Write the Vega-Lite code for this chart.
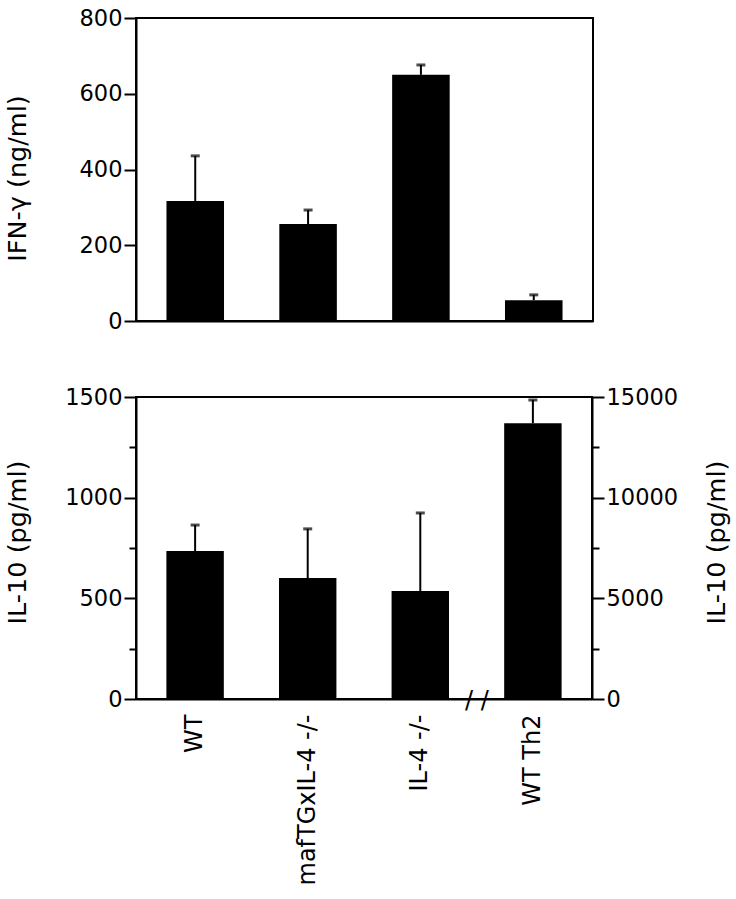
{
  "$schema": "https://vega.github.io/schema/vega-lite/v6.json",
  "padding": {"left": 4, "top": 6, "right": 5, "bottom": 0},
  "background": "white",
  "datasets": {
    "top": [
      {"group": "WT", "value": 317, "upper": 436},
      {"group": "mafTGxIL-4 -/-", "value": 256, "upper": 293},
      {"group": "IL-4 -/-", "value": 650, "upper": 676},
      {"group": "WT Th2", "value": 55, "upper": 69}
    ],
    "bottom": [
      {"group": "WT", "value": 735, "upper": 864, "axis": "left"},
      {"group": "mafTGxIL-4 -/-", "value": 601, "upper": 845, "axis": "left"},
      {"group": "IL-4 -/-", "value": 536, "upper": 924, "axis": "left"},
      {"group": "WT Th2", "value": 13700, "upper": 14850, "axis": "right"}
    ]
  },
  "config": {
    "view": {"stroke": "black", "strokeWidth": 2},
    "axis": {
      "domainColor": "black", "domainWidth": 2,
      "tickColor": "black", "tickWidth": 2,
      "labelColor": "black", "titleColor": "black",
      "labelFont": "DejaVu Sans", "titleFont": "DejaVu Sans",
      "labelFontSize": 22.5, "titleFontSize": 25.5, "titleFontWeight": "normal",
      "grid": false
    }
  },
  "bounds": "flush",
  "spacing": 76,
  "vconcat": [
    {
      "width": 457,
      "height": 303,
      "data": {"name": "top"},
      "encoding": {
        "x": {
          "field": "group", "type": "nominal",
          "sort": ["WT", "mafTGxIL-4 -/-", "IL-4 -/-", "WT Th2"],
          "scale": {"paddingInner": 0.49, "paddingOuter": 0.27},
          "axis": {"labels": false, "ticks": false, "title": null}
        }
      },
      "layer": [
        {
          "mark": {"type": "bar", "color": "black"},
          "encoding": {
            "y": {
              "field": "value", "type": "quantitative",
              "scale": {"domain": [0, 800], "nice": false},
              "axis": {
                "title": "IFN-γ  (ng/ml)",
                "values": [0, 100, 200, 300, 400, 500, 600, 700, 800],
                "format": "d",
                "labelExpr": "datum.value % 200 === 0 ? datum.label : ''",
                "tickSize": {"condition": {"test": "datum.value % 200 === 0", "value": 12}, "value": 7},
                "labelPadding": 2,
                "titleX": -119, "titleY": 160,
                "titleBaseline": "middle", "titleAngle": 270
              }
            }
          }
        },
        {
          "mark": {"type": "rule", "color": "black", "strokeWidth": 2},
          "encoding": {
            "y": {"field": "value", "type": "quantitative"},
            "y2": {"field": "upper"}
          }
        },
        {
          "mark": {"type": "tick", "color": "black", "thickness": 3, "size": 9},
          "encoding": {
            "y": {"field": "upper", "type": "quantitative"}
          }
        }
      ]
    },
    {
      "width": 456,
      "height": 302,
      "data": {"name": "bottom"},
      "encoding": {
        "x": {
          "field": "group", "type": "nominal",
          "sort": ["WT", "mafTGxIL-4 -/-", "IL-4 -/-", "WT Th2"],
          "scale": {"paddingInner": 0.49, "paddingOuter": 0.27},
          "axis": {"title": null, "ticks": false, "labelAngle": 270, "labelFontSize": 24, "labelPadding": 15, "labelLimit": 0}
        }
      },
      "layer": [
        {
          "transform": [{"filter": "datum.axis === 'left'"}],
          "encoding": {
            "y": {
              "field": "value", "type": "quantitative",
              "scale": {"domain": [0, 1500], "nice": false},
              "axis": {
                "orient": "left",
                "title": "IL-10  (pg/ml)",
                "values": [0, 250, 500, 750, 1000, 1250, 1500],
                "format": "d",
                "labelExpr": "datum.value % 500 === 0 ? datum.label : ''",
                "tickSize": {"condition": {"test": "datum.value % 500 === 0", "value": 12}, "value": 7},
                "labelPadding": 2,
                "titleX": -119, "titleY": 145,
                "titleBaseline": "middle", "titleAngle": 270
              }
            }
          },
          "layer": [
            {"mark": {"type": "bar", "color": "black"}},
            {
              "mark": {"type": "rule", "color": "black", "strokeWidth": 2},
              "encoding": {"y2": {"field": "upper"}}
            },
            {
              "mark": {"type": "tick", "color": "black", "thickness": 3, "size": 9},
              "encoding": {"y": {"field": "upper", "type": "quantitative"}}
            }
          ]
        },
        {
          "transform": [{"filter": "datum.axis === 'right'"}],
          "encoding": {
            "y": {
              "field": "value", "type": "quantitative",
              "scale": {"domain": [0, 15000], "nice": false},
              "axis": {
                "orient": "right",
                "title": "IL-10  (pg/ml)",
                "values": [0, 2500, 5000, 7500, 10000, 12500, 15000],
                "labelExpr": "datum.value % 5000 === 0 ? datum.label : ''",
                "format": "d",
                "tickSize": {"condition": {"test": "datum.value % 5000 === 0", "value": 12}, "value": 7},
                "labelPadding": 2,
                "titleX": 124, "titleY": 145,
                "titleBaseline": "middle", "titleAngle": 270
              }
            }
          },
          "layer": [
            {"mark": {"type": "bar", "color": "black"}},
            {
              "mark": {"type": "rule", "color": "black", "strokeWidth": 2},
              "encoding": {"y2": {"field": "upper"}}
            },
            {
              "mark": {"type": "tick", "color": "black", "thickness": 3, "size": 9},
              "encoding": {"y": {"field": "upper", "type": "quantitative"}}
            },
            {
              "mark": {"type": "text", "text": "/ /", "fontSize": 24, "font": "DejaVu Sans", "color": "black", "dx": -56, "dy": 2, "baseline": "middle"},
              "encoding": {
                "x": {"datum": "WT Th2"},
                "y": {"datum": 0}
              }
            }
          ]
        }
      ],
      "resolve": {"scale": {"y": "independent"}}
    }
  ]
}
